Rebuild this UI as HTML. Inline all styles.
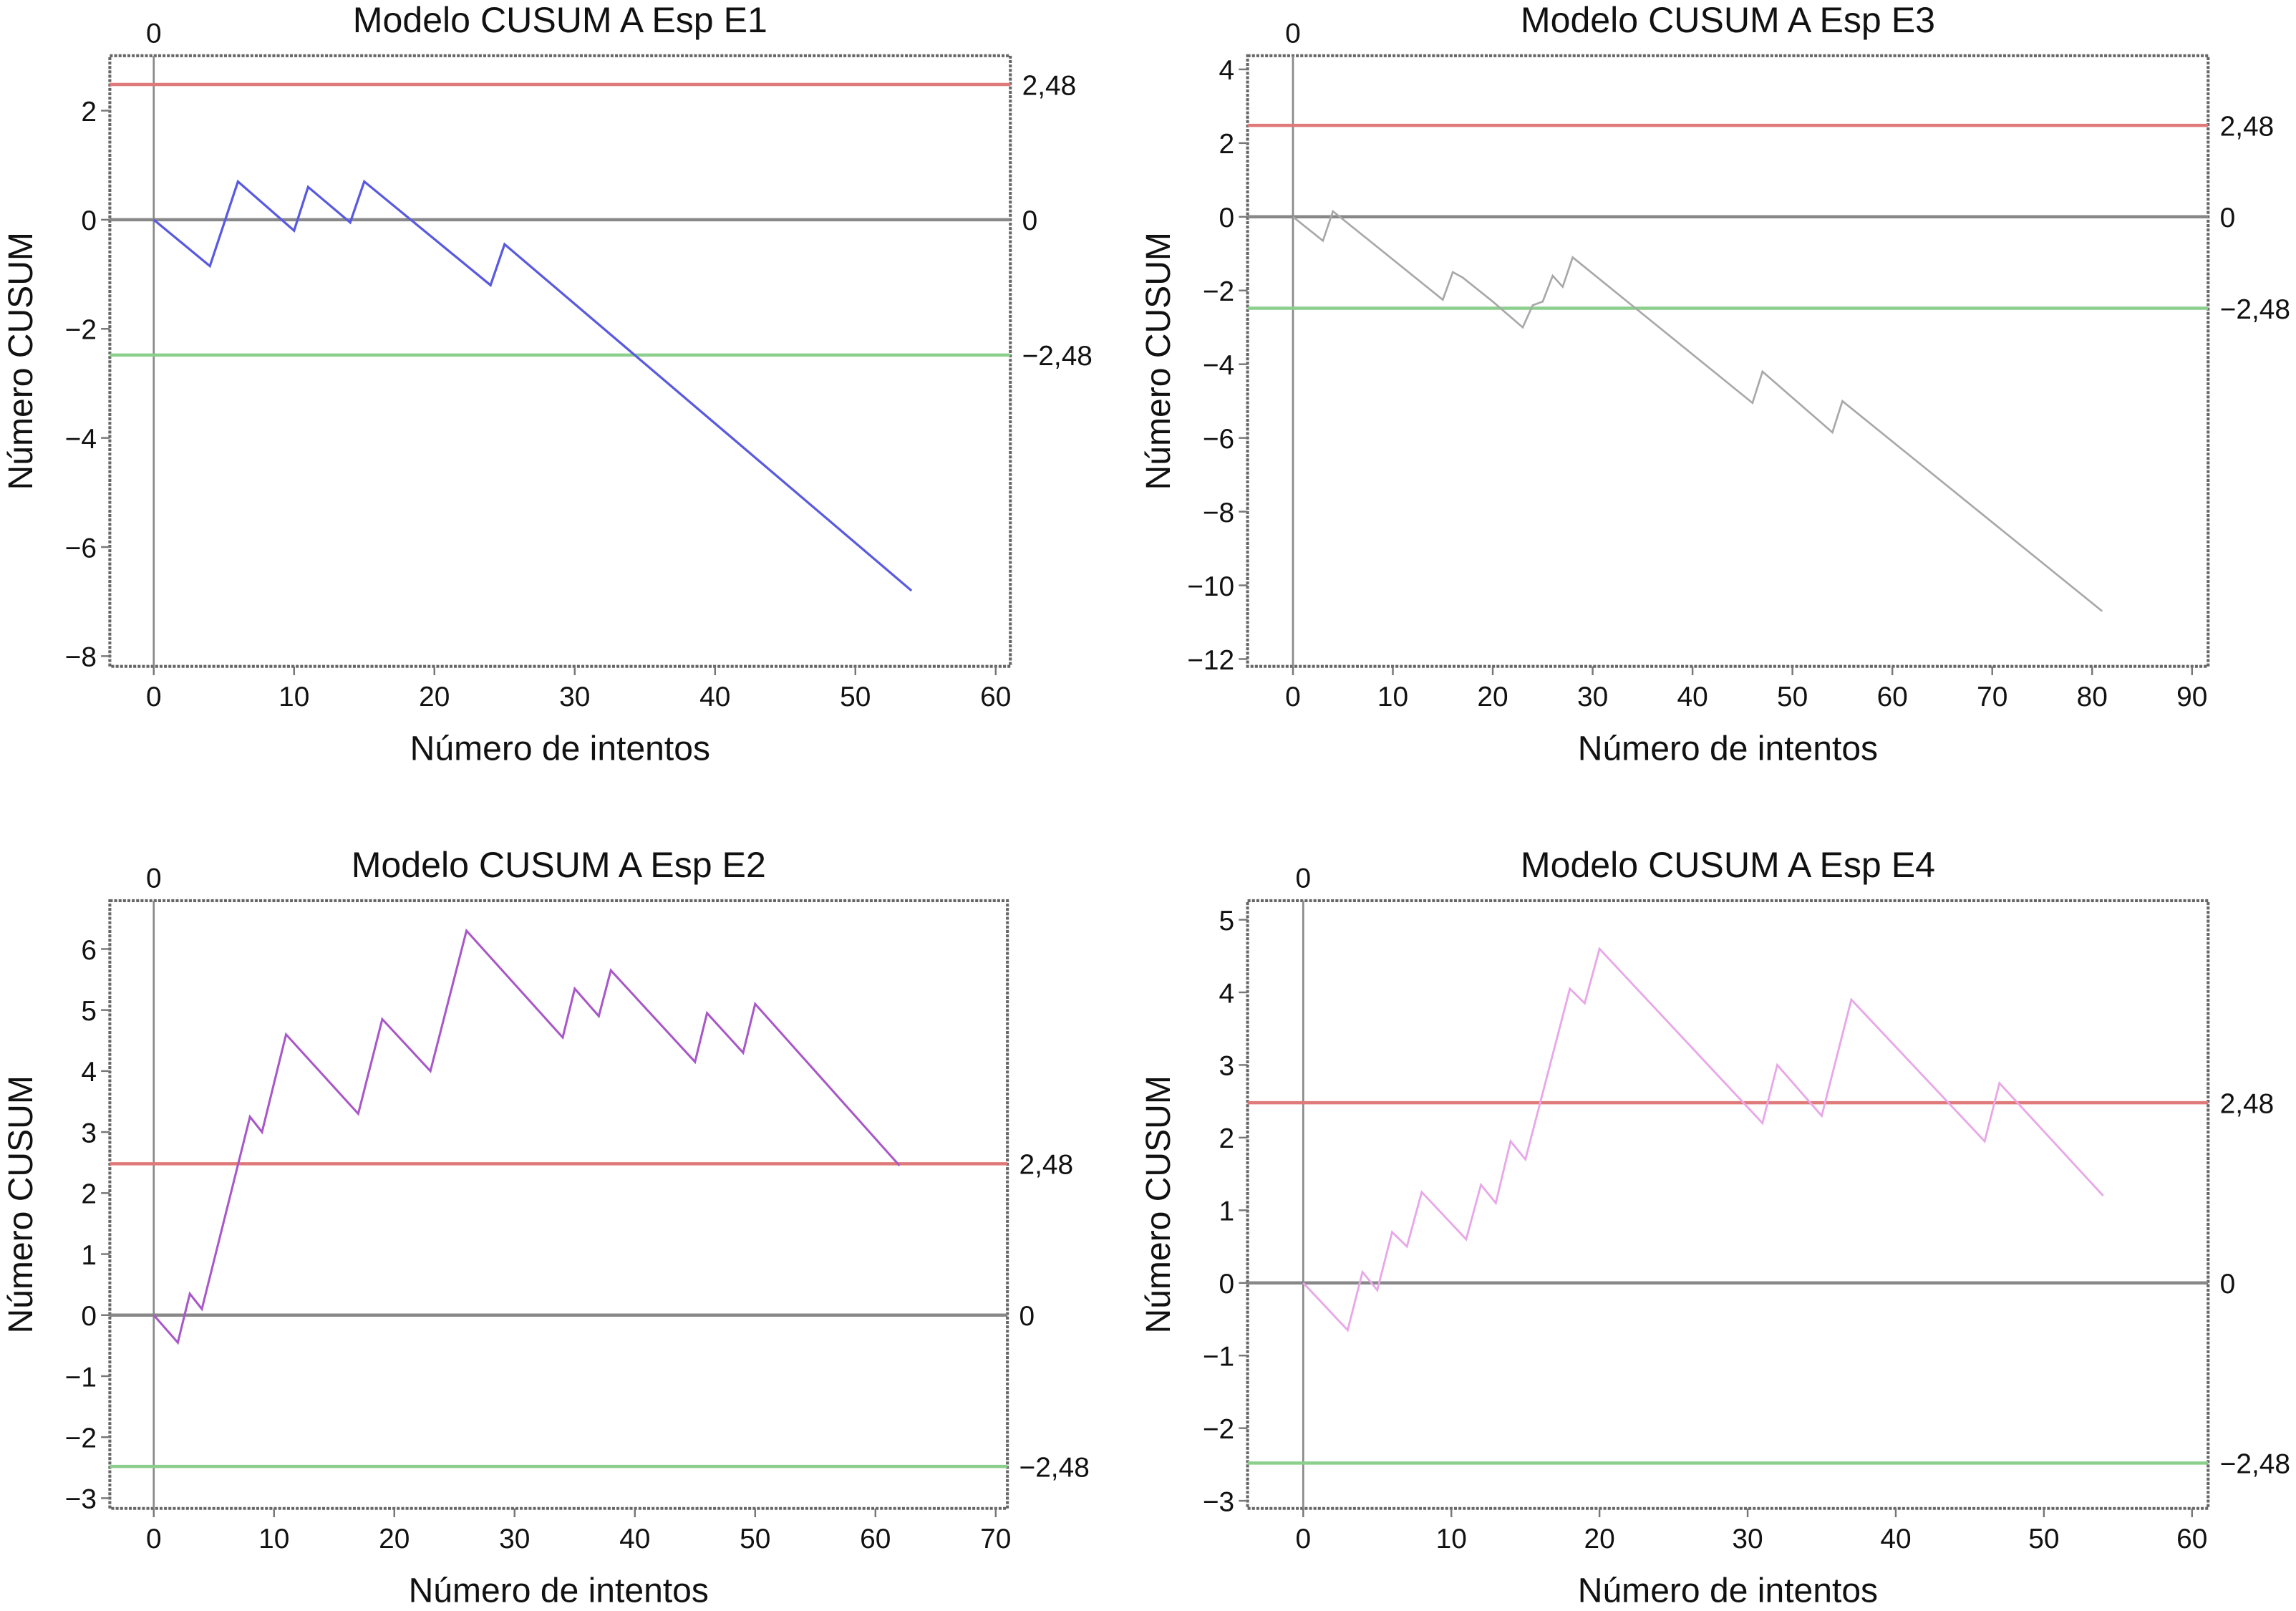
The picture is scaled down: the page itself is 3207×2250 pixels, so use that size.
<!DOCTYPE html>
<html><head><meta charset="utf-8"><style>
html,body{margin:0;padding:0;background:#fff}
svg{display:block}
text{font-family:"Liberation Sans",Arial,sans-serif;fill:#111}
</style></head><body>
<svg id="root" width="3207" height="2250" viewBox="0 0 1568 1100" xmlns="http://www.w3.org/2000/svg"></svg>
<script>
// E1
const e1X=[0,4,6,10,11,14,15,24,25,54];
const e1Y=[0,-0.85,0.7,-0.2,0.6,-0.05,0.7,-1.2,-0.45,-6.8];
const e1XTicks=[0,10,20,30,40,50,60];
const e1YTicks=[-8,-6,-4,-2,0,2];
// E3
const e3X=[0,3,4,15,16,17,20,23,24,25,26,27,28,46,47,54,55,81];
const e3Y=[0,-0.65,0.15,-2.25,-1.5,-1.65,-2.3,-3.0,-2.4,-2.3,-1.6,-1.9,-1.1,-5.05,-4.2,-5.85,-5.0,-10.7];
const e3XTicks=[0,10,20,30,40,50,60,70,80,90];
const e3YTicks=[-12,-10,-8,-6,-4,-2,0,2,4];
// E2
const e2X=[0,2,3,4,8,9,11,17,19,23,26,34,35,37,38,45,46,49,50,62];
const e2Y=[0,-0.45,0.35,0.1,3.25,3.0,4.6,3.3,4.85,4.0,6.3,4.55,5.35,4.9,5.65,4.15,4.95,4.3,5.1,2.45];
const e2XTicks=[0,10,20,30,40,50,60,70];
const e2YTicks=[-3,-2,-1,0,1,2,3,4,5,6];
// E4
const e4X=[0,3,4,5,6,7,8,11,12,13,14,15,18,19,20,31,32,35,37,46,47,54];
const e4Y=[0,-0.65,0.15,-0.1,0.7,0.5,1.25,0.6,1.35,1.1,1.95,1.7,4.05,3.85,4.6,2.2,3.0,2.3,3.9,1.95,2.75,1.2];
const e4XTicks=[0,10,20,30,40,50,60];
const e4YTicks=[-3,-2,-1,0,1,2,3,4,5];
const limits=[2.48,0,-2.48];
const limitLabels=["2,48","0","\u22122,48"];

const NS="http://www.w3.org/2000/svg";
const root=document.getElementById('root');
function mk(tag,attrs,parent){const e=document.createElementNS(NS,tag);for(const k in attrs)e.setAttribute(k,attrs[k]);parent.appendChild(e);return e;}

const panels=[
 {id:'e1',title:'Modelo CUSUM A Esp E1',X:e1X,Y:e1Y,xt:e1XTicks,yt:e1YTicks,fx:[75,690],fy:[38,455],x0:105,x1:680,xv1:60,y0:150,ya:448,yva:-8,col:'#5a5ae0',w:1.6},
 {id:'e3',title:'Modelo CUSUM A Esp E3',X:e3X,Y:e3Y,xt:e3XTicks,yt:e3YTicks,fx:[852,1508],fy:[38,455],x0:883,x1:1497,xv1:90,y0:148,ya:450,yva:-12,col:'#a8a8a8',w:1.3},
 {id:'e2',title:'Modelo CUSUM A Esp E2',X:e2X,Y:e2Y,xt:e2XTicks,yt:e2YTicks,fx:[75,688],fy:[615,1030],x0:105,x1:680,xv1:70,y0:898,ya:648,yva:6,col:'#a858c8',w:1.5},
 {id:'e4',title:'Modelo CUSUM A Esp E4',X:e4X,Y:e4Y,xt:e4XTicks,yt:e4YTicks,fx:[852,1508],fy:[615,1030],x0:890,x1:1497,xv1:60,y0:876,ya:628,yva:5,col:'#e8a8e8',w:1.4}
];

panels.forEach(p=>{
 const g=mk('g',{},root);
 
 
 const sx=v=>p.x0+(v)*(p.x1-p.x0)/p.xv1;
 const sy=v=>p.y0+(v)*(p.ya-p.y0)/p.yva;
 const [L,R]=p.fx,[T,B]=p.fy;
 const cx=(L+R)/2;
 const t=mk('text',{x:cx,y:T-16,'text-anchor':'middle','font-size':24.5},g);t.textContent=p.title;
 
 const frame=mk('rect',{x:L,y:T,width:R-L,height:B-T,fill:'none',stroke:'#666','stroke-width':2,'stroke-dasharray':'2 1'},g);
 
 const vl=mk('line',{x1:sx(0),x2:sx(0),y1:T,y2:B,stroke:'#888','stroke-width':1.3},g);
 
 const vt=mk('text',{x:sx(0),y:T-9,'text-anchor':'middle','font-size':19},g);vt.textContent='0';
 
 const cols=['#e07a7a','#888','#8ccf8c'];
 limits.forEach((v,i)=>{
  const ln=mk('line',{x1:L,x2:R,y1:sy(v),y2:sy(v),stroke:cols[i],'stroke-width':2.2},g);
  
  const lt=mk('text',{x:R+8,y:sy(v)+7,'font-size':19},g);lt.textContent=limitLabels[i];
  
 });
 p.xt.forEach(v=>{
  const tk=mk('line',{x1:sx(v),x2:sx(v),y1:B,y2:B+6,stroke:'#777','stroke-width':1.2},g);
  
  const tl=mk('text',{x:sx(v),y:B+27,'text-anchor':'middle','font-size':19},g);tl.textContent=v;
  
 });
 p.yt.forEach(v=>{
  const tk=mk('line',{x1:L-6,x2:L,y1:sy(v),y2:sy(v),stroke:'#777','stroke-width':1.2},g);
  
  const tl=mk('text',{x:L-9,y:sy(v)+7,'text-anchor':'end','font-size':19},g);tl.textContent=(v<0?'\u2212'+(-v):v);
  
 });
 const xa=mk('text',{x:cx,y:B+64,'text-anchor':'middle','font-size':23.5},g);xa.textContent='Número de intentos';
 
 const ax=L-53,ay=(T+B)/2;
 const ya=mk('text',{x:ax,y:ay,'text-anchor':'middle','font-size':23.5,transform:'rotate(-90 '+ax+' '+ay+')'},g);ya.textContent='Número CUSUM';
 
 const pts=p.X.map((x,i)=>sx(x)+','+sy(p.Y[i])).join(' ');
 const pl=mk('polyline',{points:pts,fill:'none',stroke:p.col,'stroke-width':p.w,'stroke-linejoin':'miter'},g);
 
});
</script>
</body></html>
